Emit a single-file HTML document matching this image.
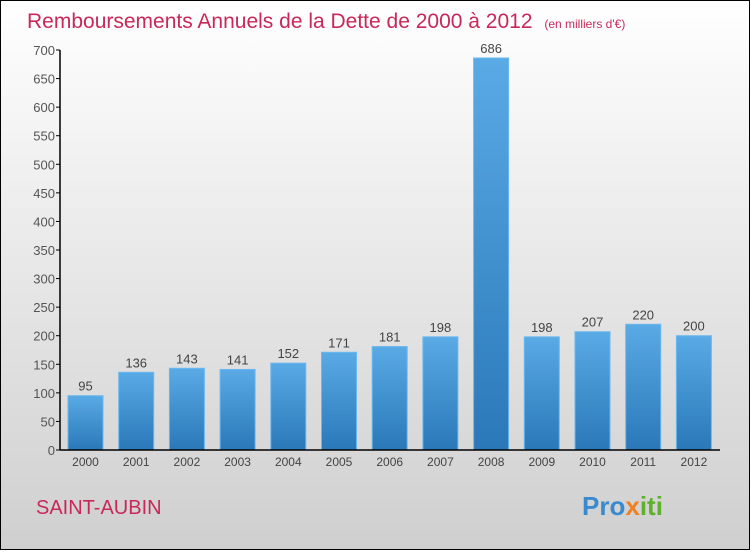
<!DOCTYPE html>
<html><head><meta charset="utf-8"><style>
html,body{margin:0;padding:0}
body{width:750px;height:550px;overflow:hidden;font-family:"Liberation Sans",sans-serif}
</style></head><body>
<svg width="750" height="550">
<defs>
<linearGradient id="bg" x1="0" y1="0" x2="0" y2="1"><stop offset="0" stop-color="#ffffff"/><stop offset="1" stop-color="#cfcfcf"/></linearGradient>
<linearGradient id="bar" x1="0" y1="0" x2="0" y2="1"><stop offset="0" stop-color="#5aaae6"/><stop offset="1" stop-color="#2a78b8"/></linearGradient>
</defs>
<rect x="0.5" y="0.5" width="749" height="549" fill="url(#bg)" stroke="#000"/>
<text x="27" y="28" font-size="21" fill="#c8285a">Remboursements Annuels de la Dette de 2000 à 2012 <tspan font-size="12" dx="6">(en milliers d'€)</tspan></text>
<text x="36" y="514" font-size="20" fill="#c8285a">SAINT-AUBIN</text>
<text x="582" y="515" font-size="26" font-weight="bold" fill="#3a8ad0">Pro<tspan fill="#f08020">x</tspan><tspan fill="#60b030">iti</tspan></text>
<g id="plot"></g>
</svg>
<script>
const categories=["2000","2001","2002","2003","2004","2005","2006","2007","2008","2009","2010","2011","2012"];
const values=[95,136,143,141,152,171,181,198,686,198,207,220,200];
const yTicks=[0,50,100,150,200,250,300,350,400,450,500,550,600,650,700];
const NS="http://www.w3.org/2000/svg";
const g=document.getElementById('plot');
const x0=60,band=50.7,y0=450,yMax=700,h=400;
const y=v=>y0-v/yMax*h;
function mk(t,a,txt){const e=document.createElementNS(NS,t);for(const k in a)e.setAttribute(k,a[k]);if(txt!=null)e.textContent=txt;g.appendChild(e);return e;}
yTicks.forEach(t=>{
 const l=mk('line',{x1:56,x2:60,y1:y(t),y2:y(t),stroke:'#000'});
 
 
 const tx=mk('text',{x:55,y:y(t)+5,'text-anchor':'end','font-size':13,fill:'#555'},t);
 
 
});
categories.forEach((c,i)=>{
 const bx=x0+i*band+8,bw=35,v=values[i];
 const r=mk('rect',{x:bx,y:y(v),width:bw,height:y0-y(v),fill:'url(#bar)',stroke:'#6ab8ee','stroke-width':1});
 
 
 const vl=mk('text',{x:bx+bw/2,y:y(v)-5,'text-anchor':'middle','font-size':13,fill:'#444'},v);
 
 
 const cl=mk('text',{x:bx+bw/2,y:466,'text-anchor':'middle','font-size':12,fill:'#444'},c);
 
 
});
const ya=mk('line',{x1:60,x2:60,y1:50,y2:450,stroke:'#000','stroke-width':1.5});


const xa=mk('line',{x1:60,x2:720,y1:450,y2:450,stroke:'#000','stroke-width':1.5});


</script>
</body></html>
